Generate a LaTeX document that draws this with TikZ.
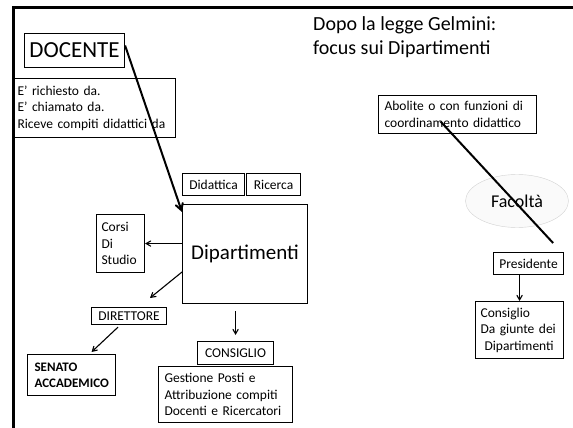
\documentclass[tikz,border=0pt]{standalone}
\usepackage{fontspec}
\setmainfont{Carlito}
\usetikzlibrary{arrows}
\usetikzlibrary{calc}
\usepgflibrary{shapes.geometric}

\begin{document}
\begin{tikzpicture}[x=1pt, y=-1pt, >=angle 60,
    box/.style={draw, line width=1.1pt, anchor=north west, inner sep=0pt, font=\fontsize{13.5}{16.5}\selectfont},
    txtbox/.style={box, align=left, inner xsep=6pt}]
    \useasboundingbox (0,0) rectangle (573,428);

    % cornice
    \draw [line width=3pt] (13.5,428) -- (13.5,7.5) -- (573,7.5);

    % titolo
    \node[anchor=north west, inner sep=0pt, align=left, font=\fontsize{20}{24}\selectfont] (titolo) at (313,16)
        {Dopo la legge Gelmini:\\focus sui Dipartimenti};

    % lato sinistro
    \node[box, minimum width=100pt, minimum height=34pt, font=\fontsize{23}{27}\selectfont] (docente) at (24,33) {DOCENTE};
    \node[txtbox, inner xsep=5pt, text width=153pt, minimum height=59pt] (richiesto) at (12,78)
        {E' richiesto da.\\E' chiamato da.\\Riceve compiti didattici da};
    \node[box, minimum width=62pt, minimum height=22pt] (didattica) at (182,173) {Didattica};
    \node[box, minimum width=54pt, minimum height=22pt] (ricerca) at (246,173) {Ricerca};
    \node[box, minimum width=125pt, minimum height=99pt, font=\fontsize{21}{25}\selectfont] (dip) at (182,204) {Dipartimenti};
    \node[txtbox, inner xsep=5pt, text width=38pt, minimum height=58pt] (corsi) at (96,214) {Corsi\\Di\\Studio};
    \node[box, minimum width=75pt, minimum height=17pt] (direttore) at (91,307) {DIRETTORE};
    \node[txtbox, inner xsep=7pt, text width=74pt, minimum height=41pt, font=\fontsize{13}{16.5}\selectfont\bfseries] (senato) at (27,354) {SENATO\\ACCADEMICO};
    \node[box, minimum width=76pt, minimum height=23pt] (consiglio) at (197,341) {CONSIGLIO};
    \node[txtbox, inner xsep=6pt, text width=122pt, minimum height=56pt] (gestione) at (158,366)
        {Gestione Posti e\\Attribuzione compiti\\Docenti e Ricercatori};

    % lato destro
    \node[txtbox, inner xsep=6pt, text width=146pt, minimum height=38pt] (abolite) at (378,95)
        {Abolite o con funzioni di\\coordinamento didattico};
    \node[ellipse, draw=gray!35, fill=gray!4, minimum width=103pt, minimum height=53pt, font=\fontsize{18}{22}\selectfont] (facolta) at (517,201) {Facoltà};
    \node[box, minimum width=70pt, minimum height=22pt] (presidente) at (493,252) {Presidente};
    \node[txtbox, inner xsep=5pt, text width=78pt, minimum height=57pt] (consdip) at (475,301)
        {Consiglio\\Da giunte dei\\\hspace*{4pt}Dipartimenti};

    % frecce
    \coordinate (dirtop) at (150,298);
    \draw [->, line width=2pt] ([yshift=5pt]docente.east) -- ([yshift=-8pt]dip.north west);
    \draw [->, line width=1.1pt] (dip.west |- corsi.east) -- (corsi.east);
    \draw [->, line width=1.1pt] ([yshift=-68pt]dip.north west) -- (dirtop);
    \draw [->, line width=1.1pt] ([xshift=-11pt,yshift=-2pt]direttore.south) -- ([xshift=20pt,yshift=2pt]senato.north);
    \draw [->, line width=1.1pt, shorten <=7pt, shorten >=6pt] (consiglio.north |- dip.south) -- (consiglio.north);
    \draw [line width=2pt] ([xshift=-17pt,yshift=-7pt]abolite.center) -- ([xshift=-11pt,yshift=9pt]presidente.north east);
    \draw [->, line width=1.1pt] (consdip.north |- presidente.south) -- (consdip.north);
\end{tikzpicture}
\end{document}
